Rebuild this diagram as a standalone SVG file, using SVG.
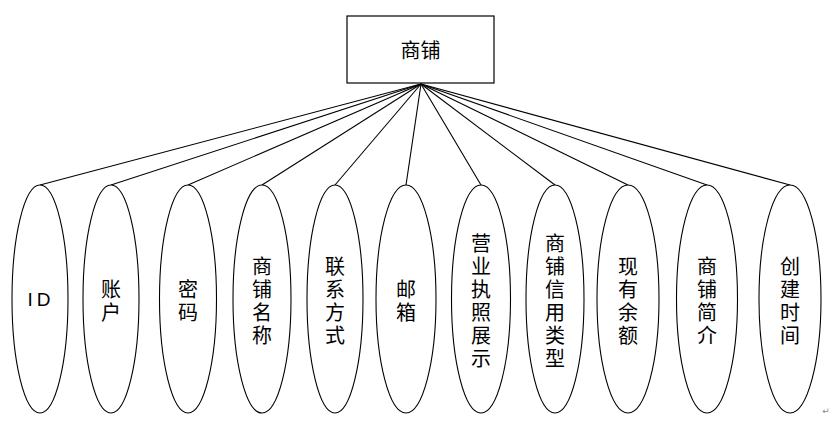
<svg xmlns="http://www.w3.org/2000/svg" width="832" height="427" viewBox="0 0 832 427">
<style>
.box{fill:#fff;stroke:#000;stroke-width:1.2}
.ell{fill:#fff;stroke:#000;stroke-width:1.1}
.ln{stroke:#000;stroke-width:1.1;fill:none}
.t{font-family:"Noto Sans CJK SC","Liberation Sans",sans-serif;font-size:20px;fill:#000;text-anchor:middle;dominant-baseline:central}
</style>
<rect x="0" y="0" width="832" height="427" fill="#fff"/>
<g id="connectors">
<line class="ln" x1="421" y1="84" x2="40" y2="185"/>
<line class="ln" x1="421" y1="84" x2="111" y2="185"/>
<line class="ln" x1="421" y1="84" x2="188" y2="185"/>
<line class="ln" x1="421" y1="84" x2="262" y2="185"/>
<line class="ln" x1="421" y1="84" x2="335" y2="185"/>
<line class="ln" x1="421" y1="84" x2="406" y2="185"/>
<line class="ln" x1="421" y1="84" x2="481" y2="185"/>
<line class="ln" x1="421" y1="84" x2="555" y2="185"/>
<line class="ln" x1="421" y1="84" x2="628" y2="185"/>
<line class="ln" x1="421" y1="84" x2="707" y2="185"/>
<line class="ln" x1="421" y1="84" x2="790" y2="185"/>
</g>
<g id="shop">
<rect class="box" x="347" y="16" width="147" height="67"/>
<text class="t" x="420.5" y="49">商铺</text>
</g>
<g id="attr-id">
<ellipse class="ell" cx="40" cy="299" rx="28" ry="114"/>
<text class="t" x="41" y="299" style="font-family:'Liberation Sans',sans-serif;font-size:19px;letter-spacing:4px">ID</text>
</g>
<g id="attr-account">
<ellipse class="ell" cx="111" cy="299" rx="28" ry="114"/>
<text class="t" x="111"><tspan x="111" y="287.5">账</tspan><tspan x="111" y="310.5">户</tspan></text>
</g>
<g id="attr-password">
<ellipse class="ell" cx="188" cy="299" rx="28.5" ry="114"/>
<text class="t"><tspan x="188" y="287.5">密</tspan><tspan x="188" y="310.5">码</tspan></text>
</g>
<g id="attr-name">
<ellipse class="ell" cx="262" cy="299" rx="29" ry="114"/>
<text class="t"><tspan x="262" y="264.5">商</tspan><tspan x="262" y="287.5">铺</tspan><tspan x="262" y="310.5">名</tspan><tspan x="262" y="333.5">称</tspan></text>
</g>
<g id="attr-contact">
<ellipse class="ell" cx="335" cy="299" rx="28" ry="114"/>
<text class="t"><tspan x="335" y="264.5">联</tspan><tspan x="335" y="287.5">系</tspan><tspan x="335" y="310.5">方</tspan><tspan x="335" y="333.5">式</tspan></text>
</g>
<g id="attr-email">
<ellipse class="ell" cx="406" cy="299" rx="30" ry="114"/>
<text class="t"><tspan x="406" y="287.5">邮</tspan><tspan x="406" y="310.5">箱</tspan></text>
</g>
<g id="attr-license">
<ellipse class="ell" cx="481" cy="299" rx="29.5" ry="114"/>
<text class="t"><tspan x="481" y="241.5">营</tspan><tspan x="481" y="264.5">业</tspan><tspan x="481" y="287.5">执</tspan><tspan x="481" y="310.5">照</tspan><tspan x="481" y="333.5">展</tspan><tspan x="481" y="356.5">示</tspan></text>
</g>
<g id="attr-credit">
<ellipse class="ell" cx="555" cy="299" rx="29" ry="114"/>
<text class="t"><tspan x="555" y="241.5">商</tspan><tspan x="555" y="264.5">铺</tspan><tspan x="555" y="287.5">信</tspan><tspan x="555" y="310.5">用</tspan><tspan x="555" y="333.5">类</tspan><tspan x="555" y="356.5">型</tspan></text>
</g>
<g id="attr-balance">
<ellipse class="ell" cx="628" cy="299" rx="31" ry="114"/>
<text class="t"><tspan x="628" y="264.5">现</tspan><tspan x="628" y="287.5">有</tspan><tspan x="628" y="310.5">余</tspan><tspan x="628" y="333.5">额</tspan></text>
</g>
<g id="attr-intro">
<ellipse class="ell" cx="707" cy="299" rx="30.5" ry="114"/>
<text class="t"><tspan x="707" y="264.5">商</tspan><tspan x="707" y="287.5">铺</tspan><tspan x="707" y="310.5">简</tspan><tspan x="707" y="333.5">介</tspan></text>
</g>
<g id="attr-created">
<ellipse class="ell" cx="790" cy="299" rx="31" ry="114"/>
<text class="t"><tspan x="790" y="264.5">创</tspan><tspan x="790" y="287.5">建</tspan><tspan x="790" y="310.5">时</tspan><tspan x="790" y="333.5">间</tspan></text>
</g>
<text x="826" y="411" style="font-family:'DejaVu Sans',sans-serif;font-size:9px;fill:#888;text-anchor:middle;dominant-baseline:central">↵</text>
</svg>
